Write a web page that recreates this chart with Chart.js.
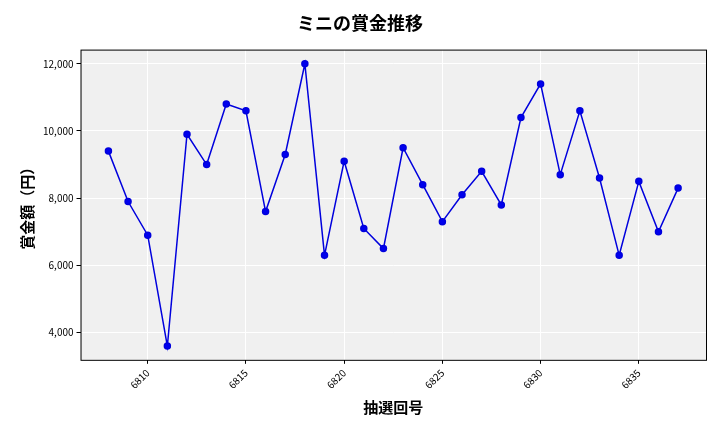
<!DOCTYPE html>
<html><head><meta charset="utf-8">
<script src="https://cdn.jsdelivr.net/npm/chart.js@4"></script>
<style>html,body{margin:0;padding:0;background:#fff}#w{width:720px;height:432px}</style>
</head><body><div id="w"><canvas id="c"></canvas></div>
<script>
const draws=[6808,6809,6810,6811,6812,6813,6814,6815,6816,6817,6818,6819,6820,6821,6822,6823,6824,6825,6826,6827,6828,6829,6830,6831,6832,6833,6834,6835,6836,6837];
const prizes=[9400,7900,6900,3600,9900,9000,10800,10600,7600,9300,12000,6300,9100,7100,6500,9500,8400,7300,8100,8800,7800,10400,11400,8700,10600,8600,6300,8500,7000,8300];
const titleText='ミニの賞金推移', xTitle='抽選回号', yTitle='賞金額（円）';
const F='"Noto Sans CJK JP", sans-serif';
const bg={id:'bg',beforeDraw(c){const a=c.chartArea,x=c.ctx;x.save();x.fillStyle='#f0f0f0';x.fillRect(a.left,a.top,a.width,a.height);x.restore();},
afterDraw(c){const a=c.chartArea,x=c.ctx;x.save();x.strokeStyle='#000';x.lineWidth=1;x.strokeRect(a.left+.5,a.top+.5,a.width,a.height);x.restore();}};
new Chart(document.getElementById('c'),{type:'line',
data:{datasets:[{data:draws.map((d,i)=>({x:d,y:prizes[i]})),borderColor:'#0000dd',backgroundColor:'#0000ee',borderWidth:1.5,pointRadius:3,pointHoverRadius:3,tension:0}]},
options:{responsive:true,maintainAspectRatio:false,animation:false,devicePixelRatio:1,
layout:{padding:{left:14,right:14,top:4,bottom:12}},
plugins:{legend:{display:false},tooltip:{enabled:false},title:{display:true,text:titleText,font:{family:F,size:18,weight:'bold'},color:'#000',padding:{top:8,bottom:16}}},
scales:{x:{type:'linear',min:6806.58,max:6838.42,afterBuildTicks(s){s.ticks=[6810,6815,6820,6825,6830,6835].map(v=>({value:v}));},
ticks:{maxRotation:45,minRotation:45,color:'#000',font:{family:F,size:10},callback:v=>String(v)},
grid:{color:'#fff',lineWidth:1,drawTicks:true,tickColor:'#000',tickLength:4},border:{display:false},
title:{display:true,text:xTitle,font:{family:F,size:15,weight:'bold'},color:'#000'}},
y:{min:3191,max:12420,afterBuildTicks(s){s.ticks=[4000,6000,8000,10000,12000].map(v=>({value:v}));},
ticks:{color:'#000',font:{family:F,size:10},callback:v=>v.toLocaleString('en-US')},
grid:{color:'#fff',lineWidth:1,tickColor:'#000',tickLength:4},border:{display:false},
title:{display:true,text:yTitle,font:{family:F,size:15,weight:'bold'},color:'#000'}}}},
plugins:[bg]});
</script></body></html>
